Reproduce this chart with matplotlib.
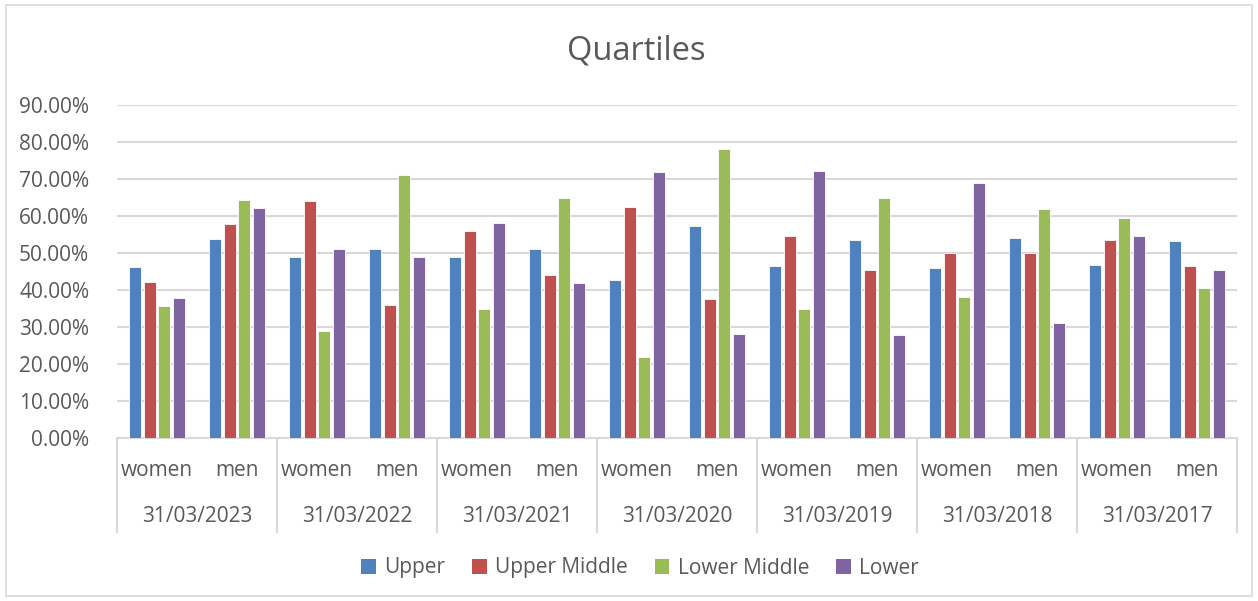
import matplotlib
matplotlib.use("Agg")
import matplotlib.pyplot as plt
import matplotlib.transforms as mtransforms
from matplotlib.patches import Patch, Rectangle
from matplotlib.lines import Line2D
import numpy as np

plt.rcParams['font.family'] = ['Open Sans', 'DejaVu Sans']

dates = ["31/03/2023", "31/03/2022", "31/03/2021", "31/03/2020",
         "31/03/2019", "31/03/2018", "31/03/2017"]
genders = ["women", "men"]
series_names = ["Upper", "Upper Middle", "Lower Middle", "Lower"]

# values per (date, gender) in order women, men for each date
upper        = [46.2, 53.8, 49.0, 51.0, 49.0, 51.0, 42.7, 57.3, 46.4, 53.6, 46.0, 54.0, 46.8, 53.2]
upper_middle = [42.2, 57.8, 64.0, 36.0, 56.0, 44.0, 62.5, 37.5, 54.6, 45.4, 50.0, 50.0, 53.5, 46.5]
lower_middle = [35.6, 64.4, 29.0, 71.0, 35.0, 65.0, 21.8, 78.2, 35.0, 65.0, 38.0, 62.0, 59.4, 40.6]
lower        = [37.8, 62.2, 51.0, 49.0, 58.0, 42.0, 72.0, 28.0, 72.1, 27.9, 69.0, 31.0, 54.7, 45.3]

colors = ["#4F81BD", "#C0504D", "#9BBB59", "#8064A2"]
text_color = "#595959"
grid_color = "#D9D9D9"

W, H = 1258, 601
fig = plt.figure(figsize=(W / 100, H / 100), dpi=100)
ax = fig.add_axes([117 / W, 1 - 438 / H, (1237 - 117) / W, (438 - 105) / H])

n = len(upper)
x = np.arange(n)
step = 0.181
bw = 0.145
for i, (vals, c, name) in enumerate(zip([upper, upper_middle, lower_middle, lower], colors, series_names)):
    ax.bar(x + (i - 1.5) * step, np.array(vals) / 100, width=bw, color=c,
           edgecolor="white", linewidth=0.6, label=name, zorder=3)

ax.set_xlim(-0.5, n - 0.5)
ax.set_ylim(0, 0.9)
ax.set_yticks(np.arange(0, 0.91, 0.1))
ax.set_yticklabels([f"{v * 100:.2f}%" for v in np.arange(0, 0.91, 0.1)],
                   fontsize=15, color=text_color)
ax.tick_params(axis='y', length=0, pad=20)
ax.set_xticks([])
ax.grid(axis='y', color=grid_color, linewidth=1.5, zorder=0)
for s in ["left", "right", "top"]:
    ax.spines[s].set_visible(False)
ax.spines["bottom"].set_color(grid_color)
ax.spines["bottom"].set_linewidth(1.5)

trans = mtransforms.blended_transform_factory(ax.transData, fig.transFigure)
y_g = 1 - 470 / H
y_d = 1 - 516 / H
for k in range(n):
    fig.text(k, y_g, genders[k % 2], transform=trans, ha="center", va="center",
             fontsize=15, color=text_color)
for j, d in enumerate(dates):
    fig.text(2 * j + 0.5, y_d, d, transform=trans, ha="center", va="center",
             fontsize=15, color=text_color)
for j in range(len(dates) + 1):
    xb = 2 * j - 0.5
    fig.add_artist(Line2D([xb, xb], [1 - 438 / H, 1 - 532 / H], transform=trans,
                          color=grid_color, linewidth=1.5))

fig.text(636 / W, 1 - 51 / H, "Quartiles", ha="center", va="center",
         fontsize=23.5, color=text_color)

handles = [Patch(facecolor=c, edgecolor="none") for c in colors]
fig.legend(handles, series_names, loc="center", bbox_to_anchor=(640 / W, 1 - 568 / H),
           ncol=4, frameon=False, fontsize=15, labelcolor=text_color,
           handlelength=0.7, handleheight=0.7, handletextpad=0.4, columnspacing=1.3)

fig.add_artist(Rectangle((6 / W, 5 / H), (1252 - 6) / W, (596 - 5) / H,
                         transform=fig.transFigure, fill=False,
                         edgecolor=grid_color, linewidth=1.2))

fig.savefig("out.png", dpi=100)
